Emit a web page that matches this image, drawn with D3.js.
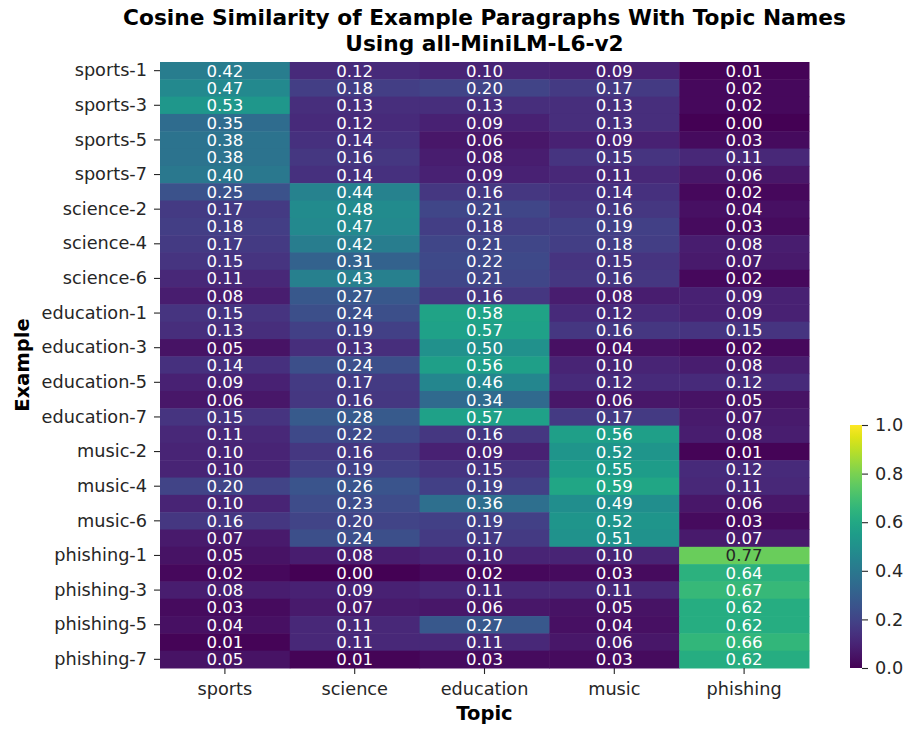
<!DOCTYPE html>
<html><head><meta charset="utf-8">
<script src="https://cdn.jsdelivr.net/npm/d3@7"></script>
<style>body{margin:0;background:#fff;} svg{display:block;font-family:"DejaVu Sans",sans-serif;}</style>
</head><body>
<svg id="c" width="907" height="730"></svg>
<script>
const topics = ["sports","science","education","music","phishing"];
const examples = [];
["sports","science","education","music","phishing"].forEach(t=>{for(let i=1;i<=7;i++)examples.push(t+"-"+i);});
const sportsRows = [
 [0.42,0.12,0.10,0.09,0.01],[0.47,0.18,0.20,0.17,0.02],[0.53,0.13,0.13,0.13,0.02],
 [0.35,0.12,0.09,0.13,0.00],[0.38,0.14,0.06,0.09,0.03],[0.38,0.16,0.08,0.15,0.11],
 [0.40,0.14,0.09,0.11,0.06]];
const scienceRows = [
 [0.25,0.44,0.16,0.14,0.02],[0.17,0.48,0.21,0.16,0.04],[0.18,0.47,0.18,0.19,0.03],
 [0.17,0.42,0.21,0.18,0.08],[0.15,0.31,0.22,0.15,0.07],[0.11,0.43,0.21,0.16,0.02],
 [0.08,0.27,0.16,0.08,0.09]];
const educationRows = [
 [0.15,0.24,0.58,0.12,0.09],[0.13,0.19,0.57,0.16,0.15],[0.05,0.13,0.50,0.04,0.02],
 [0.14,0.24,0.56,0.10,0.08],[0.09,0.17,0.46,0.12,0.12],[0.06,0.16,0.34,0.06,0.05],
 [0.15,0.28,0.57,0.17,0.07]];
const musicRows = [
 [0.11,0.22,0.16,0.56,0.08],[0.10,0.16,0.09,0.52,0.01],[0.10,0.19,0.15,0.55,0.12],
 [0.20,0.26,0.19,0.59,0.11],[0.10,0.23,0.36,0.49,0.06],[0.16,0.20,0.19,0.52,0.03],
 [0.07,0.24,0.17,0.51,0.07]];
const phishingRows = [
 [0.05,0.08,0.10,0.10,0.77],[0.02,0.00,0.02,0.03,0.64],[0.08,0.09,0.11,0.11,0.67],
 [0.03,0.07,0.06,0.05,0.62],[0.04,0.11,0.27,0.04,0.62],[0.01,0.11,0.11,0.06,0.66],
 [0.05,0.01,0.03,0.03,0.62]];
const colorbarTicks = [0.0,0.2,0.4,0.6,0.8,1.0];

const values = [...sportsRows,...scienceRows,...educationRows,...musicRows,...phishingRows];
const cells = [];
values.forEach((row,i)=>row.forEach((v,j)=>cells.push({ex:examples[i],topic:topics[j],v})));

const svg = d3.select("#c");
const L=160,R=809,T=62,B=668;
const x = d3.scaleBand().domain(topics).range([L,R]);
const y = d3.scaleBand().domain(examples).range([T,B]);
const color = d3.scaleSequential(d3.interpolateViridis).domain([0,1]);

function lum(c){
  const rgb=d3.rgb(c);
  const f=v=>{v/=255;return v<=0.03928?v/12.92:Math.pow((v+0.055)/1.055,2.4);};
  return 0.2126*f(rgb.r)+0.7152*f(rgb.g)+0.0722*f(rgb.b);
}

svg.append("g").selectAll("rect").data(cells).join("rect")
  .attr("x",d=>x(d.topic)).attr("y",d=>y(d.ex))
  .attr("width",x.bandwidth()+0.5).attr("height",y.bandwidth()+0.5)
  .attr("fill",d=>color(d.v));

svg.append("g").selectAll("text").data(cells).join("text")
  .attr("x",d=>x(d.topic)+x.bandwidth()/2).attr("y",d=>y(d.ex)+y.bandwidth()/2)
  .attr("text-anchor","middle").attr("dy","0.36em")
  .attr("font-size",16.6)
  .attr("fill",d=>lum(color(d.v))>0.408?"#262626":"#ffffff")
  .text(d=>d.v.toFixed(2));

// axes
const yAxis = d3.axisLeft(y).tickValues(examples.filter((d,i)=>i%2===0)).tickSize(6).tickPadding(7);
const gy = svg.append("g").attr("transform",`translate(${L},0)`).call(yAxis);
const xAxis = d3.axisBottom(x).tickSize(6).tickPadding(8);
const gx = svg.append("g").attr("transform",`translate(0,${B})`).call(xAxis);
[gx,gy].forEach(g=>{
  g.select(".domain").remove();
  g.selectAll("text").attr("font-size",17.7).attr("fill","#262626").attr("font-family","DejaVu Sans");
  g.selectAll("line").attr("stroke","#262626").attr("stroke-width",1.1);
});

// colorbar
const cbX=850,cbW=12,cbT=425,cbB=668;
const cy = d3.scaleLinear().domain([0,1]).range([cbB,cbT]);
const defs = svg.append("defs");
const grad = defs.append("linearGradient").attr("id","vg").attr("x1","0").attr("y1","1").attr("x2","0").attr("y2","0");
d3.range(0,1.0001,0.05).forEach(t=>grad.append("stop").attr("offset",t).attr("stop-color",color(t)));
svg.append("rect").attr("x",cbX).attr("y",cbT).attr("width",cbW).attr("height",cbB-cbT).attr("fill","url(#vg)");
const gc = svg.append("g").attr("transform",`translate(${cbX+cbW},0)`)
  .call(d3.axisRight(cy).tickValues(colorbarTicks).tickFormat(d3.format(".1f")).tickSize(6).tickPadding(7));
gc.select(".domain").remove();
gc.selectAll("text").attr("font-size",17.7).attr("fill","#262626").attr("font-family","DejaVu Sans");
gc.selectAll("line").attr("stroke","#262626").attr("stroke-width",1.1);

// labels
svg.append("text").attr("x",(L+R)/2).attr("y",25).attr("text-anchor","middle")
  .attr("font-size",21.7).attr("font-weight","bold").text("Cosine Similarity of Example Paragraphs With Topic Names");
svg.append("text").attr("x",(L+R)/2).attr("y",51).attr("text-anchor","middle")
  .attr("font-size",21.7).attr("font-weight","bold").text("Using all-MiniLM-L6-v2");
svg.append("text").attr("x",(L+R)/2).attr("y",720).attr("text-anchor","middle")
  .attr("font-size",19.5).attr("font-weight","bold").text("Topic");
svg.append("text").attr("transform",`translate(29,${(T+B)/2}) rotate(-90)`).attr("text-anchor","middle")
  .attr("font-size",19.5).attr("font-weight","bold").text("Example");
</script>
</body></html>
